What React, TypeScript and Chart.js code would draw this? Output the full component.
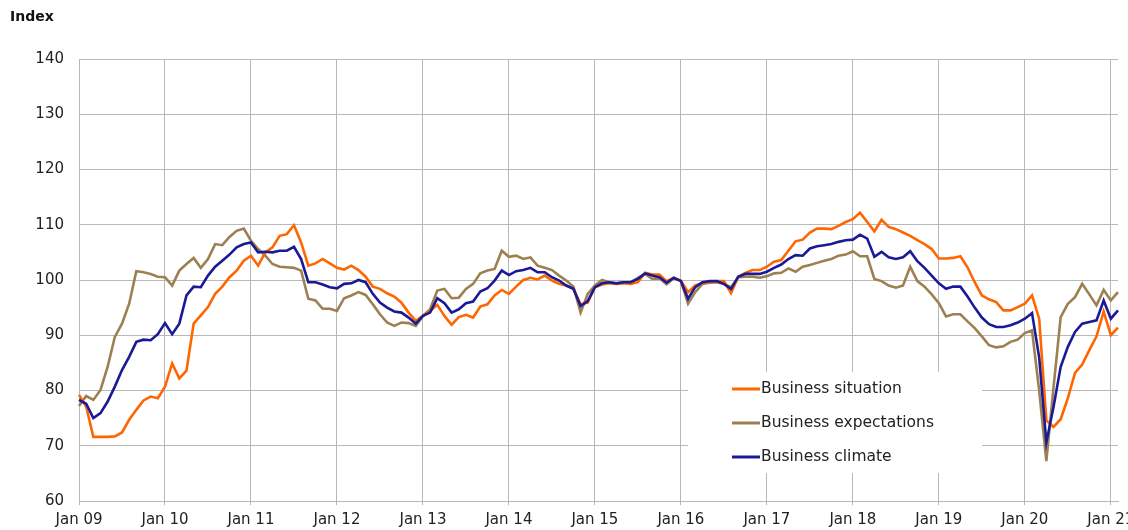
import { useEffect, useRef } from 'react';
import { Chart, registerables } from 'chart.js';

Chart.register(...registerables);

// ---- categories / tick labels ----
const MONTHS = ['Jan', 'Feb', 'Mar', 'Apr', 'May', 'Jun', 'Jul', 'Aug', 'Sep', 'Oct', 'Nov', 'Dec'];
const YEARS = ['09', '10', '11', '12', '13', '14', '15', '16', '17', '18', '19', '20', '21'];
const LAST_YEAR_MONTHS = 2; // data runs to Feb 21

const categories: string[] = [];
YEARS.forEach((yr, yi) => {
  const count = yi === YEARS.length - 1 ? LAST_YEAR_MONTHS : 12;
  for (let m = 0; m < count; m++) categories.push(`${MONTHS[m]} ${yr}`);
});

const Y_MIN = 60;
const Y_MAX = 140;
const Y_STEP = 10;
const Y_TITLE = 'Index';

// ---- series values (monthly, Jan 09 – Feb 21) ----
const businessSituation = [
  79.2, 77.1, 71.6, 71.6, 71.6, 71.7, 72.4, 74.7, 76.5, 78.2, 78.9, 78.6,
  80.7, 84.9, 82.2, 83.6, 92.1, 93.6, 95.1, 97.5, 98.8, 100.5, 101.7, 103.5,
  104.4, 102.6, 105.0, 105.9, 108.0, 108.3, 109.9, 106.8, 102.6, 103.0, 103.8, 103.0,
  102.2, 101.9, 102.6, 101.8, 100.6, 98.8, 98.4, 97.6, 97.0, 95.9, 94.1, 92.6,
  93.5, 94.4, 95.5, 93.5, 91.9, 93.3, 93.7, 93.2, 95.2, 95.6, 97.2, 98.2,
  97.5, 98.8, 100.0, 100.4, 100.1, 100.8, 99.9, 99.3, 99.0, 98.4, 95.6, 95.9,
  98.7, 99.2, 99.4, 99.3, 99.4, 99.3, 99.6, 101.3, 101.0, 101.0, 99.8, 100.4,
  99.9, 97.8, 99.0, 99.4, 99.6, 99.8, 99.8, 97.6, 100.6, 101.3, 101.8, 101.8,
  102.4, 103.3, 103.6, 105.3, 107.0, 107.3, 108.6, 109.3, 109.3, 109.2, 109.8, 110.5,
  111.0, 112.2, 110.5, 108.8, 110.9, 109.6, 109.2, 108.6, 108.0, 107.2, 106.5, 105.6,
  103.9, 103.9, 104.0, 104.3, 102.3, 99.6, 97.2, 96.5, 96.0, 94.5, 94.5, 95.1,
  95.7, 97.2, 93.0, 74.6, 73.4, 74.8, 78.6, 83.2, 84.7, 87.3, 89.8, 94.3,
  90.0, 91.4,
];

const businessExpectations = [
  77.2, 79.0, 78.3, 80.1, 84.3, 89.7, 92.1, 95.7, 101.6, 101.4, 101.1, 100.6,
  100.5, 99.0, 101.7, 102.9, 104.0, 102.2, 103.8, 106.5, 106.3, 107.8, 108.9, 109.3,
  107.1, 105.6, 104.4, 102.9, 102.4, 102.3, 102.2, 101.7, 96.6, 96.3, 94.8, 94.8,
  94.4, 96.7, 97.2, 97.8, 97.3, 95.6, 93.8, 92.3, 91.7, 92.3, 92.2, 91.7,
  93.5, 94.7, 98.1, 98.4, 96.7, 96.8, 98.4, 99.3, 101.2, 101.7, 102.0, 105.3,
  104.2, 104.4, 103.8, 104.1, 102.6, 102.2, 101.8, 100.8, 99.9, 98.8, 94.1, 97.5,
  99.0, 100.0, 99.6, 99.4, 99.6, 99.6, 100.4, 101.1, 100.2, 100.3, 99.2, 100.3,
  99.8, 95.7, 97.8, 99.3, 99.5, 99.6, 99.3, 98.7, 100.5, 100.6, 100.6, 100.4,
  100.7, 101.2, 101.3, 102.1, 101.5, 102.4, 102.7, 103.1, 103.5, 103.8, 104.4, 104.6,
  105.2, 104.3, 104.3, 100.2, 99.8, 99.0, 98.6, 99.0, 102.4, 99.8, 98.8, 97.4,
  95.8, 93.4, 93.8, 93.8, 92.5, 91.3, 89.8, 88.2, 87.8, 88.0, 88.8, 89.2,
  90.4, 90.9, 80.0, 67.2, 80.5, 93.3, 95.7, 96.9, 99.3, 97.4, 95.4, 98.2,
  96.3, 97.8,
];

const businessClimate = [
  78.3, 77.6, 75.0, 75.9, 78.0, 80.7, 83.7, 86.1, 88.8, 89.2, 89.1, 90.2,
  92.2, 90.2, 92.1, 97.2, 98.8, 98.7, 100.8, 102.4, 103.5, 104.6, 105.9, 106.5,
  106.8, 105.0, 105.1, 105.0, 105.3, 105.3, 106.0, 103.8, 99.6, 99.6, 99.2, 98.7,
  98.5, 99.3, 99.4, 100.0, 99.6, 97.5, 95.9, 95.0, 94.3, 94.1, 93.2, 92.1,
  93.5, 94.1, 96.7, 95.8, 94.1, 94.7, 95.8, 96.1, 97.9, 98.5, 99.9, 101.7,
  100.9, 101.6, 101.8, 102.2, 101.4, 101.4, 100.5, 99.9, 99.0, 98.4, 95.3, 96.2,
  98.7, 99.4, 99.6, 99.4, 99.6, 99.6, 100.2, 101.2, 100.8, 100.5, 99.5, 100.4,
  99.8, 96.6, 98.7, 99.6, 99.8, 99.8, 99.3, 98.4, 100.6, 101.1, 101.1, 101.1,
  101.5, 102.2, 102.8, 103.8, 104.5, 104.4, 105.7, 106.1, 106.3, 106.5, 106.9, 107.2,
  107.3, 108.2, 107.5, 104.2, 105.1, 104.1, 103.8, 104.1, 105.2, 103.4, 102.2, 100.8,
  99.4, 98.4, 98.8, 98.8, 97.0, 95.0, 93.2, 92.0, 91.5, 91.5, 91.8, 92.3,
  93.0, 94.0, 86.0, 70.6, 77.0, 84.3, 87.9, 90.6, 92.1, 92.4, 92.7, 96.3,
  93.0, 94.5,
];

const SERIES_LABELS = ['Business situation', 'Business expectations', 'Business climate'];

// ---- styles ----
const COLORS = ['#ff6600', '#9d8052', '#1a1a96'];
const GRID_COLOR = '#b8b8b8';
const TEXT_COLOR = '#222222';
const FONT_FAMILY = '"DejaVu Sans", Verdana, sans-serif';

const LEGEND_BOX = { left: 688, top: 372, right: 982, bottom: 473 };
const LEGEND_ROWS = { firstY: 389, gap: 34, lineX0: 732, lineX1: 760, textX: 761 };

const insideLegend = {
  id: 'insideLegend',
  beforeDatasetsDraw(chart: any) {
    const ctx = chart.ctx as CanvasRenderingContext2D;
    ctx.save();
    ctx.fillStyle = '#ffffff';
    ctx.fillRect(
      LEGEND_BOX.left,
      LEGEND_BOX.top,
      LEGEND_BOX.right - LEGEND_BOX.left,
      LEGEND_BOX.bottom - LEGEND_BOX.top
    );
    chart.data.datasets.forEach((ds: any, i: number) => {
      const y = LEGEND_ROWS.firstY + i * LEGEND_ROWS.gap;
      ctx.strokeStyle = ds.borderColor;
      ctx.lineWidth = 3;
      ctx.beginPath();
      ctx.moveTo(LEGEND_ROWS.lineX0, y);
      ctx.lineTo(LEGEND_ROWS.lineX1, y);
      ctx.stroke();
      ctx.fillStyle = TEXT_COLOR;
      ctx.font = `15.5px ${FONT_FAMILY}`;
      ctx.textAlign = 'left';
      ctx.textBaseline = 'middle';
      ctx.fillText(ds.label, LEGEND_ROWS.textX, y);
    });
    ctx.restore();
  },
};

export default function App() {
  const canvasRef = useRef<HTMLCanvasElement | null>(null);

  useEffect(() => {
    document.body.style.margin = '0';
    const canvas = canvasRef.current;
    if (!canvas) return;

    const seriesValues = [businessSituation, businessExpectations, businessClimate];
    const drawOrder = [1, 2, 0];

    const chart = new Chart(canvas, {
      type: 'line',
      data: {
        labels: categories,
        datasets: SERIES_LABELS.map((label, i) => ({
          label,
          data: seriesValues[i],
          borderColor: COLORS[i],
          backgroundColor: COLORS[i],
          borderWidth: 2.6,
          pointRadius: 0,
          tension: 0,
          fill: false,
          order: drawOrder[i],
        })),
      },
      options: {
        responsive: false,
        animation: false,
        devicePixelRatio: 1,
        layout: { padding: { left: 10, right: 10, top: 0, bottom: 0 } },
        plugins: {
          legend: { display: false },
          tooltip: { enabled: false },
          title: {
            display: true,
            text: Y_TITLE,
            align: 'start',
            color: '#111111',
            font: { family: FONT_FAMILY, size: 14, weight: 'bold', lineHeight: 1.2 },
            padding: { top: 9, bottom: 33.2 },
          },
        },
        scales: {
          x: {
            type: 'category',
            offset: false,
            grid: {
              color: GRID_COLOR,
              lineWidth: 1,
              drawTicks: true,
              tickLength: 4,
            },
            border: { color: GRID_COLOR, width: 1 },
            ticks: {
              autoSkip: false,
              maxRotation: 0,
              minRotation: 0,
              padding: 6,
              color: TEXT_COLOR,
              font: { family: FONT_FAMILY, size: 15 },
              callback: (_v: any, index: number) =>
                index % 12 === 0 ? categories[index] : null,
            },
            afterFit: (scale: any) => {
              scale.height = 29;
              scale.paddingLeft = 0;
              scale.paddingRight = 0;
            },
          },
          y: {
            min: Y_MIN,
            max: Y_MAX,
            grid: { color: GRID_COLOR, lineWidth: 1, drawTicks: false },
            border: { color: GRID_COLOR, width: 1 },
            ticks: {
              stepSize: Y_STEP,
              padding: 15,
              color: TEXT_COLOR,
              font: { family: FONT_FAMILY, size: 15 },
            },
            afterFit: (scale: any) => {
              scale.width = 69;
            },
          },
        },
      },
      plugins: [insideLegend],
    });

    return () => chart.destroy();
  }, []);

  return (
    <canvas
      ref={canvasRef}
      width={1128}
      height={530}
      style={{ display: 'block', width: 1128, height: 530 }}
    />
  );
}
